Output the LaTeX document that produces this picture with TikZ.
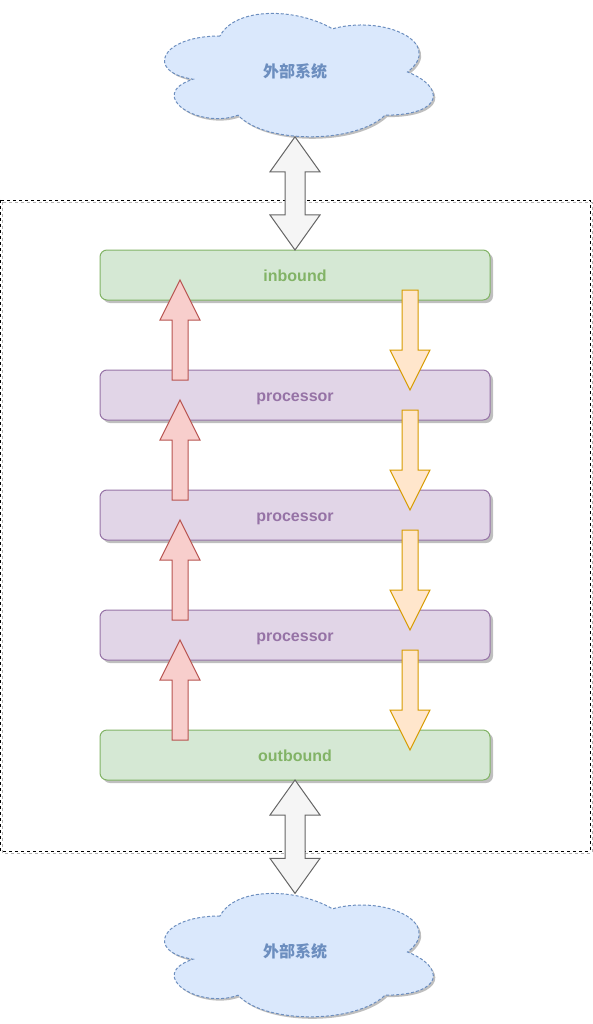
\documentclass[tikz,border=0pt]{standalone}
\usepackage{fontspec}
\setmainfont{Liberation Sans}
\newfontfamily\cjkfont{Noto Sans CJK SC}
\usetikzlibrary{positioning,calc,shadows}

\definecolor{greenfill}{HTML}{D5E8D4}
\definecolor{greenline}{HTML}{82B366}
\definecolor{purplefill}{HTML}{E1D5E7}
\definecolor{purpleline}{HTML}{9673A6}
\definecolor{bluefill}{HTML}{DAE8FC}
\definecolor{blueline}{HTML}{6C8EBF}
\definecolor{redfill}{HTML}{F8CECC}
\definecolor{redline}{HTML}{B85450}
\definecolor{orangefill}{HTML}{FFE6CC}
\definecolor{orangeline}{HTML}{D79B00}
\definecolor{greyfill}{HTML}{F5F5F5}
\definecolor{greyline}{HTML}{666666}

% outline of the external system cloud, in a 1x1 box
\newcommand{\cloudpath}{(0.25,0.25) .. controls (0.05,0.25) and (0,0.5) .. (0.16,0.55)
  .. controls (0,0.66) and (0.18,0.9) .. (0.31,0.8)
  .. controls (0.4,1) and (0.7,1) .. (0.8,0.8)
  .. controls (1,0.8) and (1,0.6) .. (0.875,0.5)
  .. controls (1,0.3) and (0.8,0.1) .. (0.625,0.2)
  .. controls (0.5,0.05) and (0.3,0.05) .. (0.25,0.25) -- cycle}

% fat arrows
\newcommand{\uparrowbody}[3]{%
  \draw[#1] let \p1=#2, \p2=#3 in
    (\x1-8pt,\y1) -- (\x1+8pt,\y1) -- (\x1+8pt,\y2-40pt) -- (\x1+20pt,\y2-40pt)
    -- (\x1,\y2) -- (\x1-20pt,\y2-40pt) -- (\x1-8pt,\y2-40pt) -- cycle;}
\newcommand{\downarrowbody}[3]{%
  \draw[#1] let \p1=#2, \p2=#3 in
    (\x1-8pt,\y1) -- (\x1+8pt,\y1) -- (\x1+8pt,\y2+40pt) -- (\x1+20pt,\y2+40pt)
    -- (\x1,\y2) -- (\x1-20pt,\y2+40pt) -- (\x1-8pt,\y2+40pt) -- cycle;}
\newcommand{\doublearrowbody}[3]{%
  \draw[#1] let \p1=#2, \p2=#3 in
    (\x1,\y1) -- (\x1+25pt,\y1-35pt) -- (\x1+10pt,\y1-35pt) -- (\x1+10pt,\y2+35pt)
    -- (\x1+25pt,\y2+35pt) -- (\x1,\y2) -- (\x1-25pt,\y2+35pt) -- (\x1-10pt,\y2+35pt)
    -- (\x1-10pt,\y1-35pt) -- (\x1-25pt,\y1-35pt) -- cycle;}

\tikzset{
  layer/.style={rounded corners=7pt, minimum width=390pt, minimum height=50pt,
    outer sep=0pt, line width=1pt, font=\fontsize{16}{18}\selectfont\bfseries,
    text height=14pt, text depth=2pt,
    drop shadow={shadow xshift=3pt, shadow yshift=-3pt, fill=black!25, opacity=1}},
  endlayer/.style={layer, draw=greenline, fill=greenfill, text=greenline},
  proclayer/.style={layer, draw=purpleline, fill=purplefill, text=purpleline},
  uparrow/.style={draw=redline, fill=redfill, line width=1pt},
  downarrow/.style={draw=orangeline, fill=orangefill, line width=1pt},
  linkarrow/.style={draw=greyline, fill=greyfill, line width=1pt},
  extcloud/.pic={
    \begin{scope}[x=300pt, y=-144pt, shift={(-0.5,-0.5)}]
      \fill[black!25, shift={(2pt,-2pt)}] \cloudpath;
      \draw[draw=blueline, fill=bluefill, line width=1pt, dash pattern=on 3pt off 2pt] \cloudpath;
    \end{scope}
    \node[font=\cjkfont\fontsize{16}{18}\selectfont\bfseries, text=blueline] (-text) at (0,-1) {外部系统};
    \coordinate (-top) at (0,-58.6);
    \coordinate (-bottom) at (0,64.8);
  }
}

\begin{document}
\begin{tikzpicture}[x=1pt, y=-1pt]
\useasboundingbox (0,0) rectangle (593,1024);

% system boundary
\draw[black!30, dash pattern=on 3pt off 3pt, shift={(2pt,-2pt)}] (0,200) rectangle (590,851);
\draw[dash pattern=on 3pt off 3pt] (0,200) rectangle (590,851);

\pic (topsys) at (295,72) {extcloud};
\pic (botsys) at (295,952) {extcloud};

\node[endlayer] (inbound) at (295,275) {inbound};
\node[proclayer, below=70pt of inbound] (proc1) {processor};
\node[proclayer, below=70pt of proc1] (proc2) {processor};
\node[proclayer, below=70pt of proc2] (proc3) {processor};
\node[endlayer, below=70pt of proc3] (outbound) {outbound};

\foreach \lo/\hi in {proc1/inbound, proc2/proc1, proc3/proc2, outbound/proc3} {
  \uparrowbody{uparrow}{($(\lo.north west)+(80,10)$)}{($(\hi.south west)+(80,-20)$)}
  \downarrowbody{downarrow}{($(\hi.south west)+(310,-10)$)}{($(\lo.north west)+(310,20)$)}
}

\doublearrowbody{linkarrow}{(topsys-bottom)}{(inbound.north)}
\doublearrowbody{linkarrow}{(outbound.south)}{(botsys-top)}
\end{tikzpicture}
\end{document}
